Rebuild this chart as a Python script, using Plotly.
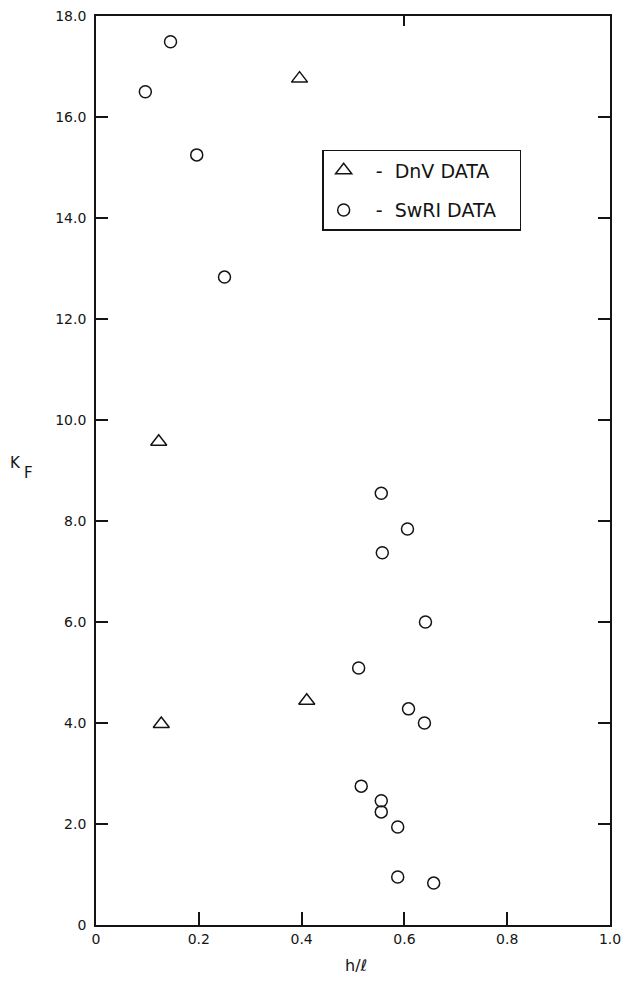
import plotly.graph_objects as go

# DnV data (triangles)
dnv_x = [0.396, 0.122, 0.127, 0.410]
dnv_y = [16.76, 9.57, 3.98, 4.44]

# SwRI data (circles)
swri_x = [0.096, 0.145, 0.196, 0.250, 0.555, 0.606, 0.557, 0.641, 0.511,
          0.608, 0.639, 0.516, 0.555, 0.555, 0.587, 0.587, 0.657]
swri_y = [16.50, 17.49, 15.25, 12.83, 8.55, 7.84, 7.37, 6.00, 5.09,
          4.28, 4.00, 2.75, 2.46, 2.24, 1.94, 0.95, 0.83]

x_ticks = [0, 0.2, 0.4, 0.6, 0.8, 1.0]
x_ticktext = ["0", "0.2", "0.4", "0.6", "0.8", "1.0"]
y_ticks = [0, 2, 4, 6, 8, 10, 12, 14, 16, 18]
y_ticktext = ["0", "2.0", "4.0", "6.0", "8.0", "10.0", "12.0", "14.0", "16.0", "18.0"]
top_ticks = [0.6]

FONT = "DejaVu Sans"
INK = "#141414"
NB = "\u00a0"

fig = go.Figure()
fig.add_trace(go.Scatter(
    x=dnv_x, y=dnv_y, mode="markers",
    name=NB + NB + "-" + NB + NB + "DnV DATA" + NB * 3,
    legendgroup="a",
    marker=dict(symbol="triangle-up-open", size=14, color=INK, line=dict(width=1.5, color=INK)),
))
fig.add_trace(go.Scatter(
    x=swri_x, y=swri_y, mode="markers",
    name=NB + NB + "-" + NB + NB + "SwRI DATA" + NB * 3,
    legendgroup="b",
    marker=dict(symbol="circle-open", size=12, color=INK, line=dict(width=1.5, color=INK)),
))
# invisible trace on top axis to hold the single top tick
fig.add_trace(go.Scatter(x=[None], y=[None], xaxis="x2", showlegend=False, hoverinfo="skip"))

fig.update_layout(
    width=621, height=983, autosize=False,
    margin=dict(l=96, r=11, t=16, b=58, autoexpand=False),
    paper_bgcolor="white", plot_bgcolor="white",
    font=dict(family=FONT, size=14, color=INK),
    showlegend=True,
    legend=dict(
        x=0.44, y=0.8526, xanchor="left", yanchor="top",
        bordercolor=INK, borderwidth=1.5, bgcolor="white",
        font=dict(family=FONT, size=19, color=INK),
        traceorder="grouped", tracegroupgap=12,
        itemwidth=30,
    ),
    xaxis=dict(
        range=[0, 1.0], tickvals=x_ticks, ticktext=x_ticktext,
        showgrid=False, zeroline=False, automargin=False,
        showline=True, linecolor=INK, linewidth=1.8,
        ticks="inside", ticklen=13, tickwidth=1.5, tickcolor=INK,
        mirror=True, ticklabeloverflow="allow",
        tickfont=dict(family=FONT, size=14, color=INK),
    ),
    xaxis2=dict(
        overlaying="x", side="top", range=[0, 1.0], tickvals=top_ticks,
        showticklabels=False, ticks="inside", ticklen=10, tickwidth=1.5,
        tickcolor=INK, showgrid=False, zeroline=False, showline=False,
        automargin=False,
    ),
    yaxis=dict(
        range=[0, 18], tickvals=y_ticks, ticktext=y_ticktext,
        showgrid=False, zeroline=False, automargin=False,
        showline=True, linecolor=INK, linewidth=1.8,
        ticks="inside", ticklen=12, tickwidth=1.5, tickcolor=INK,
        mirror="ticks", ticklabelstandoff=5,
        tickfont=dict(family=FONT, size=14, color=INK),
    ),
    annotations=[
        dict(text="K", xref="paper", yref="paper", x=-0.156, y=0.508,
             showarrow=False, xanchor="center", yanchor="middle",
             font=dict(family=FONT, size=15, color=INK)),
        dict(text="F", xref="paper", yref="paper", x=-0.131, y=0.497,
             showarrow=False, xanchor="center", yanchor="middle",
             font=dict(family=FONT, size=15, color=INK)),
        dict(text="h/ℓ", xref="paper", yref="paper", x=0.506, y=-0.045,
             showarrow=False, xanchor="center", yanchor="middle",
             font=dict(family=FONT, size=16, color=INK)),
    ],
)

fig.write_html(
    "out.html",
    config={"displayModeBar": False, "responsive": False},
    post_script="document.body.style.margin='0';document.body.style.overflow='hidden';",
)
